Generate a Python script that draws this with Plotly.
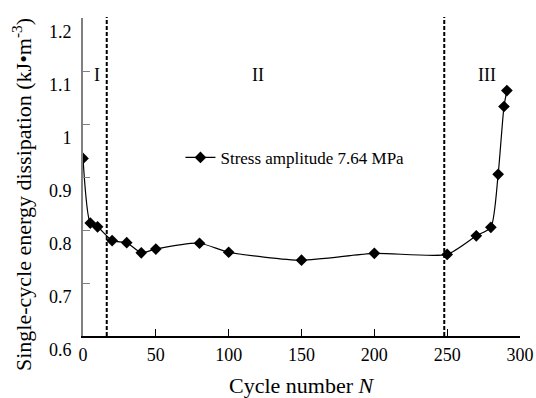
import plotly.graph_objects as go

# Data
cycles = [0, 5, 10, 20, 30, 40, 50, 80, 100, 150, 200, 250, 270, 280, 285, 289, 291]
energy = [0.935, 0.813, 0.806, 0.780, 0.776, 0.757, 0.764, 0.775, 0.758, 0.743,
          0.756, 0.754, 0.789, 0.805, 0.905, 1.033, 1.063]
stage_boundaries = [16.3, 248]
stage_labels = ["I", "II", "III"]
stage_label_x = [9.6, 120, 277]
stage_label_y = 1.092
x_ticks = [0, 50, 100, 150, 200, 250, 300]
y_ticks = [0.6, 0.7, 0.8, 0.9, 1.0, 1.1, 1.2]
y_tick_text = ["0.6", "0.7", "0.8", "0.9", "1", "1.1", "1.2"]

FONT = "Liberation Serif"

fig = go.Figure()
fig.add_trace(go.Scatter(
    x=cycles, y=energy, mode="lines+markers",
    name="Stress amplitude 7.64 MPa",
    line=dict(color="black", width=1.2, shape="spline", smoothing=0.6),
    marker=dict(symbol="diamond", size=9, color="black"),
))

for b in stage_boundaries:
    fig.add_shape(type="line", xref="x", yref="paper", x0=b, x1=b, y0=0, y1=1.003,
                  line=dict(color="black", width=2, dash="4px,2px"))

for lab, lx in zip(stage_labels, stage_label_x):
    fig.add_annotation(x=lx, y=stage_label_y, text=lab, showarrow=False,
                       font=dict(family=FONT, size=18, color="black"))

fig.add_annotation(xref="paper", yref="paper", x=0, y=0.5, xshift=-61, yshift=-18,
                   xanchor="center", yanchor="middle",
                   text="Single-cycle energy dissipation (kJ•m<sup>-3</sup>)",
                   textangle=-90, showarrow=False,
                   font=dict(family=FONT, size=22, color="black"))
fig.add_annotation(xref="paper", yref="paper", x=0.5, y=0, yshift=-49,
                   xanchor="center", yanchor="middle",
                   text="Cycle number <i>N</i>", showarrow=False,
                   font=dict(family=FONT, size=22, color="black"))

fig.update_layout(
    width=536, height=398,
    margin=dict(l=83, r=16, t=18, b=62, autoexpand=False),
    paper_bgcolor="white", plot_bgcolor="white",
    font=dict(family=FONT, size=18, color="black"),
    showlegend=True,
    legend=dict(x=0.223, y=0.56, xanchor="left", yanchor="middle",
                bgcolor="rgba(0,0,0,0)", font=dict(family=FONT, size=17)),
)
fig.update_xaxes(range=[0, 300], tickvals=x_ticks, ticks="inside", ticklen=7,
                 tickcolor="black", tickwidth=1.3, showline=True, linecolor="black",
                 linewidth=1.5, showgrid=False, zeroline=False, automargin=False,
                 ticklabelstandoff=2, tickfont=dict(family=FONT, size=18))
fig.update_yaxes(range=[0.6, 1.2], tickvals=y_ticks, ticktext=y_tick_text,
                 ticks="inside", ticklen=7,
                 tickcolor="#808080", tickwidth=1.3, showline=True, linecolor="#808080",
                 linewidth=1.8, showgrid=False, zeroline=False, automargin=False,
                 ticklabelshift=14, ticklabelstandoff=6, tickfont=dict(family=FONT, size=18))

fig.write_html("out.html")
